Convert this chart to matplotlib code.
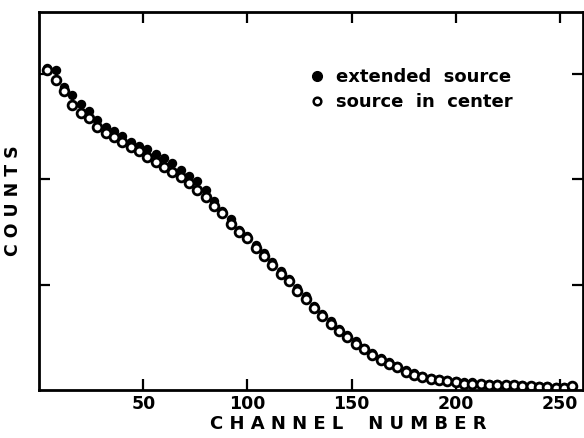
import matplotlib
matplotlib.use("Agg")
import matplotlib.pyplot as plt
from matplotlib.lines import Line2D

# channel numbers (every 4th channel)
channels = list(range(4, 257, 4))

# extended source (filled circles)
extended = [3.06, 3.04, 2.88, 2.80, 2.72, 2.65, 2.57, 2.50, 2.46, 2.41,
            2.36, 2.32, 2.29, 2.24, 2.20, 2.16, 2.09, 2.03, 1.99, 1.90,
            1.80, 1.70, 1.62, 1.52, 1.46, 1.38, 1.30, 1.22, 1.13, 1.05,
            0.97, 0.89, 0.80, 0.72, 0.65, 0.58, 0.52, 0.46, 0.40, 0.35,
            0.30, 0.26, 0.23, 0.19, 0.16, 0.13, 0.11, 0.10, 0.09, 0.08,
            0.07, 0.07, 0.06, 0.06, 0.06, 0.05, 0.05, 0.05, 0.04, 0.04,
            0.04, 0.03, 0.03, 0.04]

# source in center (open circles)
center = [3.04, 2.95, 2.84, 2.71, 2.63, 2.58, 2.50, 2.44, 2.40, 2.36,
          2.31, 2.27, 2.21, 2.17, 2.12, 2.07, 2.02, 1.97, 1.90, 1.83,
          1.75, 1.68, 1.58, 1.50, 1.44, 1.35, 1.27, 1.19, 1.10, 1.03,
          0.94, 0.86, 0.78, 0.70, 0.63, 0.56, 0.50, 0.44, 0.39, 0.33,
          0.28, 0.25, 0.22, 0.17, 0.14, 0.12, 0.10, 0.09, 0.08, 0.07,
          0.06, 0.06, 0.06, 0.05, 0.05, 0.05, 0.05, 0.04, 0.04, 0.03,
          0.03, 0.02, 0.02, 0.04]

xticks = [50, 100, 150, 200, 250]
yticks = [1, 2, 3]

fig = plt.figure(figsize=(5.84, 4.38), dpi=100)
ax = fig.add_axes([0.067, 0.110, 0.931, 0.862])

ax.plot(channels, extended, "o", color="black", markersize=6.8, markeredgewidth=0)
ax.plot(channels, center, "o", markerfacecolor="white", markeredgecolor="black",
        markersize=6.3, markeredgewidth=2.0)

ax.set_xlim(0, 261)
ax.set_ylim(0, 3.59)
ax.set_xticks(xticks)
ax.set_yticks(yticks)
ax.set_yticklabels([])
ax.tick_params(direction="in", length=8, width=1.6, top=True, right=True,
               labelsize=12.5, pad=4)
for lab in ax.get_xticklabels():
    lab.set_fontweight("bold")
for s in ax.spines.values():
    s.set_linewidth(2)

ax.set_xlabel("C H A N N E L    N U M B E R", fontsize=13, fontweight="bold")
ax.xaxis.set_label_coords(0.568, -0.068)
ax.set_ylabel("C O U N T S", fontsize=12.5, fontweight="bold", labelpad=8)

handles = [
    Line2D([], [], ls="none", marker="o", color="black", markersize=7),
    Line2D([], [], ls="none", marker="o", markerfacecolor="white",
           markeredgecolor="black", markersize=5.5, markeredgewidth=1.8),
]
ax.legend(handles, ["extended  source", "source  in  center"], loc="upper left",
          bbox_to_anchor=(0.472, 0.895), frameon=False, handlelength=0.6,
          handletextpad=0.75, labelspacing=0.4,
          prop={"weight": "bold", "size": 13})

fig.savefig("out.png", dpi=100)
